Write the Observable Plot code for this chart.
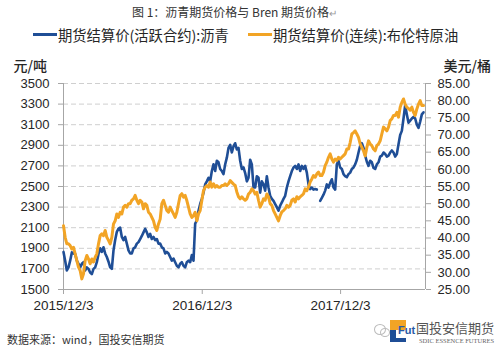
<!DOCTYPE html>
<html>
<head>
<meta charset="utf-8">
<script src="https://cdn.jsdelivr.net/npm/d3@7"></script>
<script src="https://cdn.jsdelivr.net/npm/@observablehq/plot@0.6"></script>
<style>
  html, body { margin: 0; padding: 0; background: #fff; }
  #page { position: relative; width: 500px; height: 356px; overflow: hidden; background: #fff;
          font-family: "Noto Sans CJK SC", "Liberation Sans", sans-serif; color: #262626; }
  #title { position: absolute; top: 3px; left: 132px; font-size: 12px; line-height: 18px; color: #333; white-space: nowrap; }
  #title .ret { color: #999; font-size: 10px; }
  .leg { position: absolute; top: 25px; height: 18px; display: flex; align-items: center; font-size: 14.3px; white-space: nowrap; color: #262626; }
  .sw { width: 24px; height: 3px; margin-right: 1px; }
  #chart { position: absolute; top: 44px; left: 0; }
  #caption { position: absolute; top: 330px; left: 7px; font-size: 11px; line-height: 18px; color: #333; white-space: nowrap; }
  #logo { position: absolute; top: 318px; left: 372px; width: 128px; height: 32px; white-space: nowrap; }
</style>
</head>
<body>
<div id="page">
  <div id="title">图 1：沥青期货价格与 Bren 期货价格<span class="ret">↵</span></div>
  <div class="leg" style="left:33px"><div class="sw" style="background:#1f4e96"></div>期货结算价(活跃合约):沥青</div>
  <div class="leg" style="left:248px"><div class="sw" style="background:#f2a425"></div>期货结算价(连续):布伦特原油</div>
  <div id="chart"></div>
  <div id="caption">数据来源：wind，国投安信期货</div>
  <div id="logo">
    <div style="position:absolute;left:2px;top:6px;width:10px;height:9px;border:1.5px solid #bbb;border-radius:50%"></div>
    <div style="position:absolute;left:8px;top:10px;width:8px;height:7px;border:1.5px solid #bbb;border-radius:50%"></div>
    <div style="position:absolute;left:18px;top:2px;width:16px;height:10px;background:#f2a425"></div>
    <div style="position:absolute;left:18px;top:12px;width:6px;height:12px;background:#1f4e96"></div>
    <div style="position:absolute;left:18px;top:20px;width:16px;height:4px;background:#1f4e96"></div>
    <div style="position:absolute;left:26px;top:6px;font:bold 11px 'Liberation Sans';color:#2a5aa6">Fut</div>
    <div style="position:absolute;left:44px;top:2px;font-size:13px;color:#555;line-height:16px">国投安信期货</div>
    <div style="position:absolute;left:47px;top:19px;font:6.5px 'Liberation Serif';color:#666;white-space:nowrap">SDIC ESSENCE FUTURES</div>
  </div>
</div>
<script>
// ---- data ----
const startDate = "2015-12-03";     // first sample
const stepDays = 4.397;             // spacing between read-off samples
const endDays = 955;                // axis ends ~2018-07-15
const leftTicks = [1500, 1700, 1900, 2100, 2300, 2500, 2700, 2900, 3100, 3300, 3500];
const rightTicks = [25, 30, 35, 40, 45, 50, 55, 60, 65, 70, 75, 80, 85];
const xTickLabels = ["2015/12/3", "2016/12/3", "2017/12/3"];
const seriesNames = ["期货结算价(活跃合约):沥青", "期货结算价(连续):布伦特原油"];

// asphalt, 元/吨 (left axis); null = gap in the line
const asphalt = [
1865,1780,1685,1715,1780,1860,1850,1845,1780,1750,1715,1750,1765,1685,1715,1700,1665,1650,1700,1715,
1765,1845,1900,1865,1910,1850,1815,1770,1715,1700,1880,1980,2060,2090,2100,2010,1980,2010,1945,1880,
1850,1850,1900,1910,1945,1960,1990,2020,2055,2090,2055,2010,2040,1990,2010,1980,1990,1945,1945,1910,
1900,1850,1865,1850,1815,1780,1800,1765,1730,1715,1750,1765,1730,1715,1765,1780,1765,1835,1780,2140,
2170,2265,2330,2380,2440,2520,2550,2585,2550,2650,2715,2650,2750,2735,2670,2650,2620,2715,2780,2875,
2905,2830,2890,2920,2860,2875,2750,2670,2685,2630,2550,2585,2760,2715,2490,2490,2600,2585,2440,2550,
2520,2460,2600,2490,2410,2380,2360,2330,2300,2265,2315,2345,2380,2410,2490,2550,2600,2650,2685,2700,
2670,2715,2650,2700,2670,2700,2635,2520,2475,2490,2470,2475,2470,null,2360,2390,2420,2460,2520,2490,
2535,2570,2490,2470,2715,2750,2685,2670,2620,2600,2590,2620,2635,2670,2685,2715,2760,2830,2895,2920,
2875,2800,2740,2700,2750,2735,2680,2670,2715,2735,2790,2800,2830,2815,2790,2800,2830,2850,2830,2790,
2815,2910,3000,3040,3160,3290,3200,3120,3140,3160,3175,3160,3100,3070,3130,3200,3220
];

// Brent, 美元/桶 (right axis)
const brent = [
43.6,40.2,38.3,38.3,37.8,36.8,37.3,35.4,33.4,31.5,30.5,28.1,29.6,33.4,34.9,33.9,32.5,33.9,33.0,34.4,
35.4,38.3,40.7,41.2,40.7,42.2,40.2,39.3,38.3,40.2,44.1,45.0,47.0,46.0,47.5,47.0,49.0,49.5,49.0,50.0,
50.0,51.0,51.4,52.4,51.0,50.0,51.0,50.5,48.5,50.0,49.5,47.5,47.0,46.0,45.0,43.1,42.2,44.1,45.5,50.0,
51.0,49.5,48.0,47.5,49.0,48.0,47.0,46.0,47.5,50.0,52.4,52.9,51.9,52.4,50.9,49.0,47.0,46.0,46.5,47.5,
45.0,47.0,48.0,50.9,53.8,54.8,55.3,54.8,56.3,54.8,55.8,54.8,55.3,54.8,54.8,55.3,55.3,55.8,55.3,55.8,
56.7,56.2,55.7,55.3,53.4,52.0,51.4,52.0,51.4,51.0,51.4,52.8,53.3,54.3,53.8,52.8,53.3,51.0,49.0,50.0,
51.4,51.0,52.8,52.0,50.0,49.5,48.0,47.0,46.0,45.0,46.5,47.6,48.0,48.5,49.5,49.0,49.5,51.0,51.4,50.5,
52.0,51.4,52.0,52.4,52.9,54.3,53.8,54.8,56.3,57.2,58.2,57.7,58.7,59.2,58.2,58.2,59.2,61.1,62.1,63.5,
64.5,63.0,62.1,63.0,62.6,63.5,63.0,63.5,64.0,64.5,65.9,65.9,67.8,70.3,70.7,71.2,70.3,69.3,67.4,66.4,
65.4,63.9,66.4,68.3,67.4,66.9,65.9,65.4,66.9,67.4,68.3,70.3,72.3,71.8,71.2,72.3,74.2,74.7,75.7,75.7,
76.6,75.2,78.1,79.5,80.5,79.0,78.1,77.7,77.2,78.1,76.6,75.7,77.6,79.0,80.0,78.6,78.6
];

// ---- build ----
const DAY = 864e5;
const t0 = new Date(startDate + "T00:00:00Z");
const tEnd = new Date(t0.getTime() + endDays * DAY);
const dateOf = i => new Date(t0.getTime() + i * stepDays * DAY);
const parseLabel = s => { const [y, m, d] = s.split("/").map(Number); return new Date(Date.UTC(y, m - 1, d)); };
const xTicks = xTickLabels.map(parseLabel);
const fmtDate = d => `${d.getUTCFullYear()}/${d.getUTCMonth() + 1}/${d.getUTCDate()}`;

// map the right (Brent) axis onto the left one
const r2l = d3.scaleLinear([rightTicks[0], rightTicks[rightTicks.length - 1]],
                           [leftTicks[0], leftTicks[leftTicks.length - 1]]);

const rowsA = asphalt.map((v, i) => ({date: dateOf(i), v, s: seriesNames[0]}));
const rowsB = brent.map((v, i) => ({date: dateOf(i), v: r2l(v), s: seriesNames[1]}));

const axisColor = "#a6a6a6";
const textColor = "#262626";

const chart = Plot.plot({
  width: 500,
  height: 275,
  marginLeft: 63,
  marginRight: 75,
  marginTop: 39,
  marginBottom: 30,
  style: {fontFamily: "'Liberation Sans', Arial, sans-serif", fontSize: "13px", color: textColor, background: "transparent"},
  x: {type: "utc", domain: [t0, tEnd]},
  y: {domain: [leftTicks[0], leftTicks[leftTicks.length - 1]]},
  marks: [
    Plot.gridY(leftTicks.slice(1), {stroke: "#cfcfcf", strokeOpacity: 1, strokeDasharray: "5,3"}),
    Plot.ruleX([t0], {stroke: axisColor}),
    Plot.ruleX([tEnd], {stroke: axisColor}),
    Plot.ruleY([leftTicks[0]], {stroke: axisColor}),
    Plot.axisY({ticks: leftTicks, tickFormat: d => String(d), tickSize: 5, tickPadding: 9, label: null,
                stroke: axisColor, fill: textColor, fontSize: 13}),
    Plot.axisY({anchor: "right", ticks: rightTicks.map(r2l), tickFormat: d => r2l.invert(d).toFixed(2),
                tickSize: 5, tickPadding: 7, label: null, stroke: axisColor, fill: textColor, fontSize: 13}),
    Plot.axisX({ticks: xTicks, tickFormat: fmtDate, tickSize: 5, tickPadding: 6, label: null,
                stroke: axisColor, fill: textColor, fontSize: 13.5}),
    Plot.text(["元/吨"], {frameAnchor: "top-left", dx: -50, dy: -22, textAnchor: "start",
                        fontFamily: "'Noto Sans CJK SC'", fontSize: 14, fontWeight: 500, fill: textColor}),
    Plot.text(["美元/桶"], {frameAnchor: "top-right", dx: 18, dy: -22, textAnchor: "start",
                         fontFamily: "'Noto Sans CJK SC'", fontSize: 14, fontWeight: 500, fill: textColor}),
    Plot.lineY(rowsA, {x: "date", y: "v", stroke: "#1f4e96", strokeWidth: 2.6, strokeLinejoin: "round"}),
    Plot.lineY(rowsB, {x: "date", y: "v", stroke: "#f2a425", strokeWidth: 3, strokeLinejoin: "round"})
  ]
});
document.getElementById("chart").appendChild(chart);
</script>
</body>
</html>
